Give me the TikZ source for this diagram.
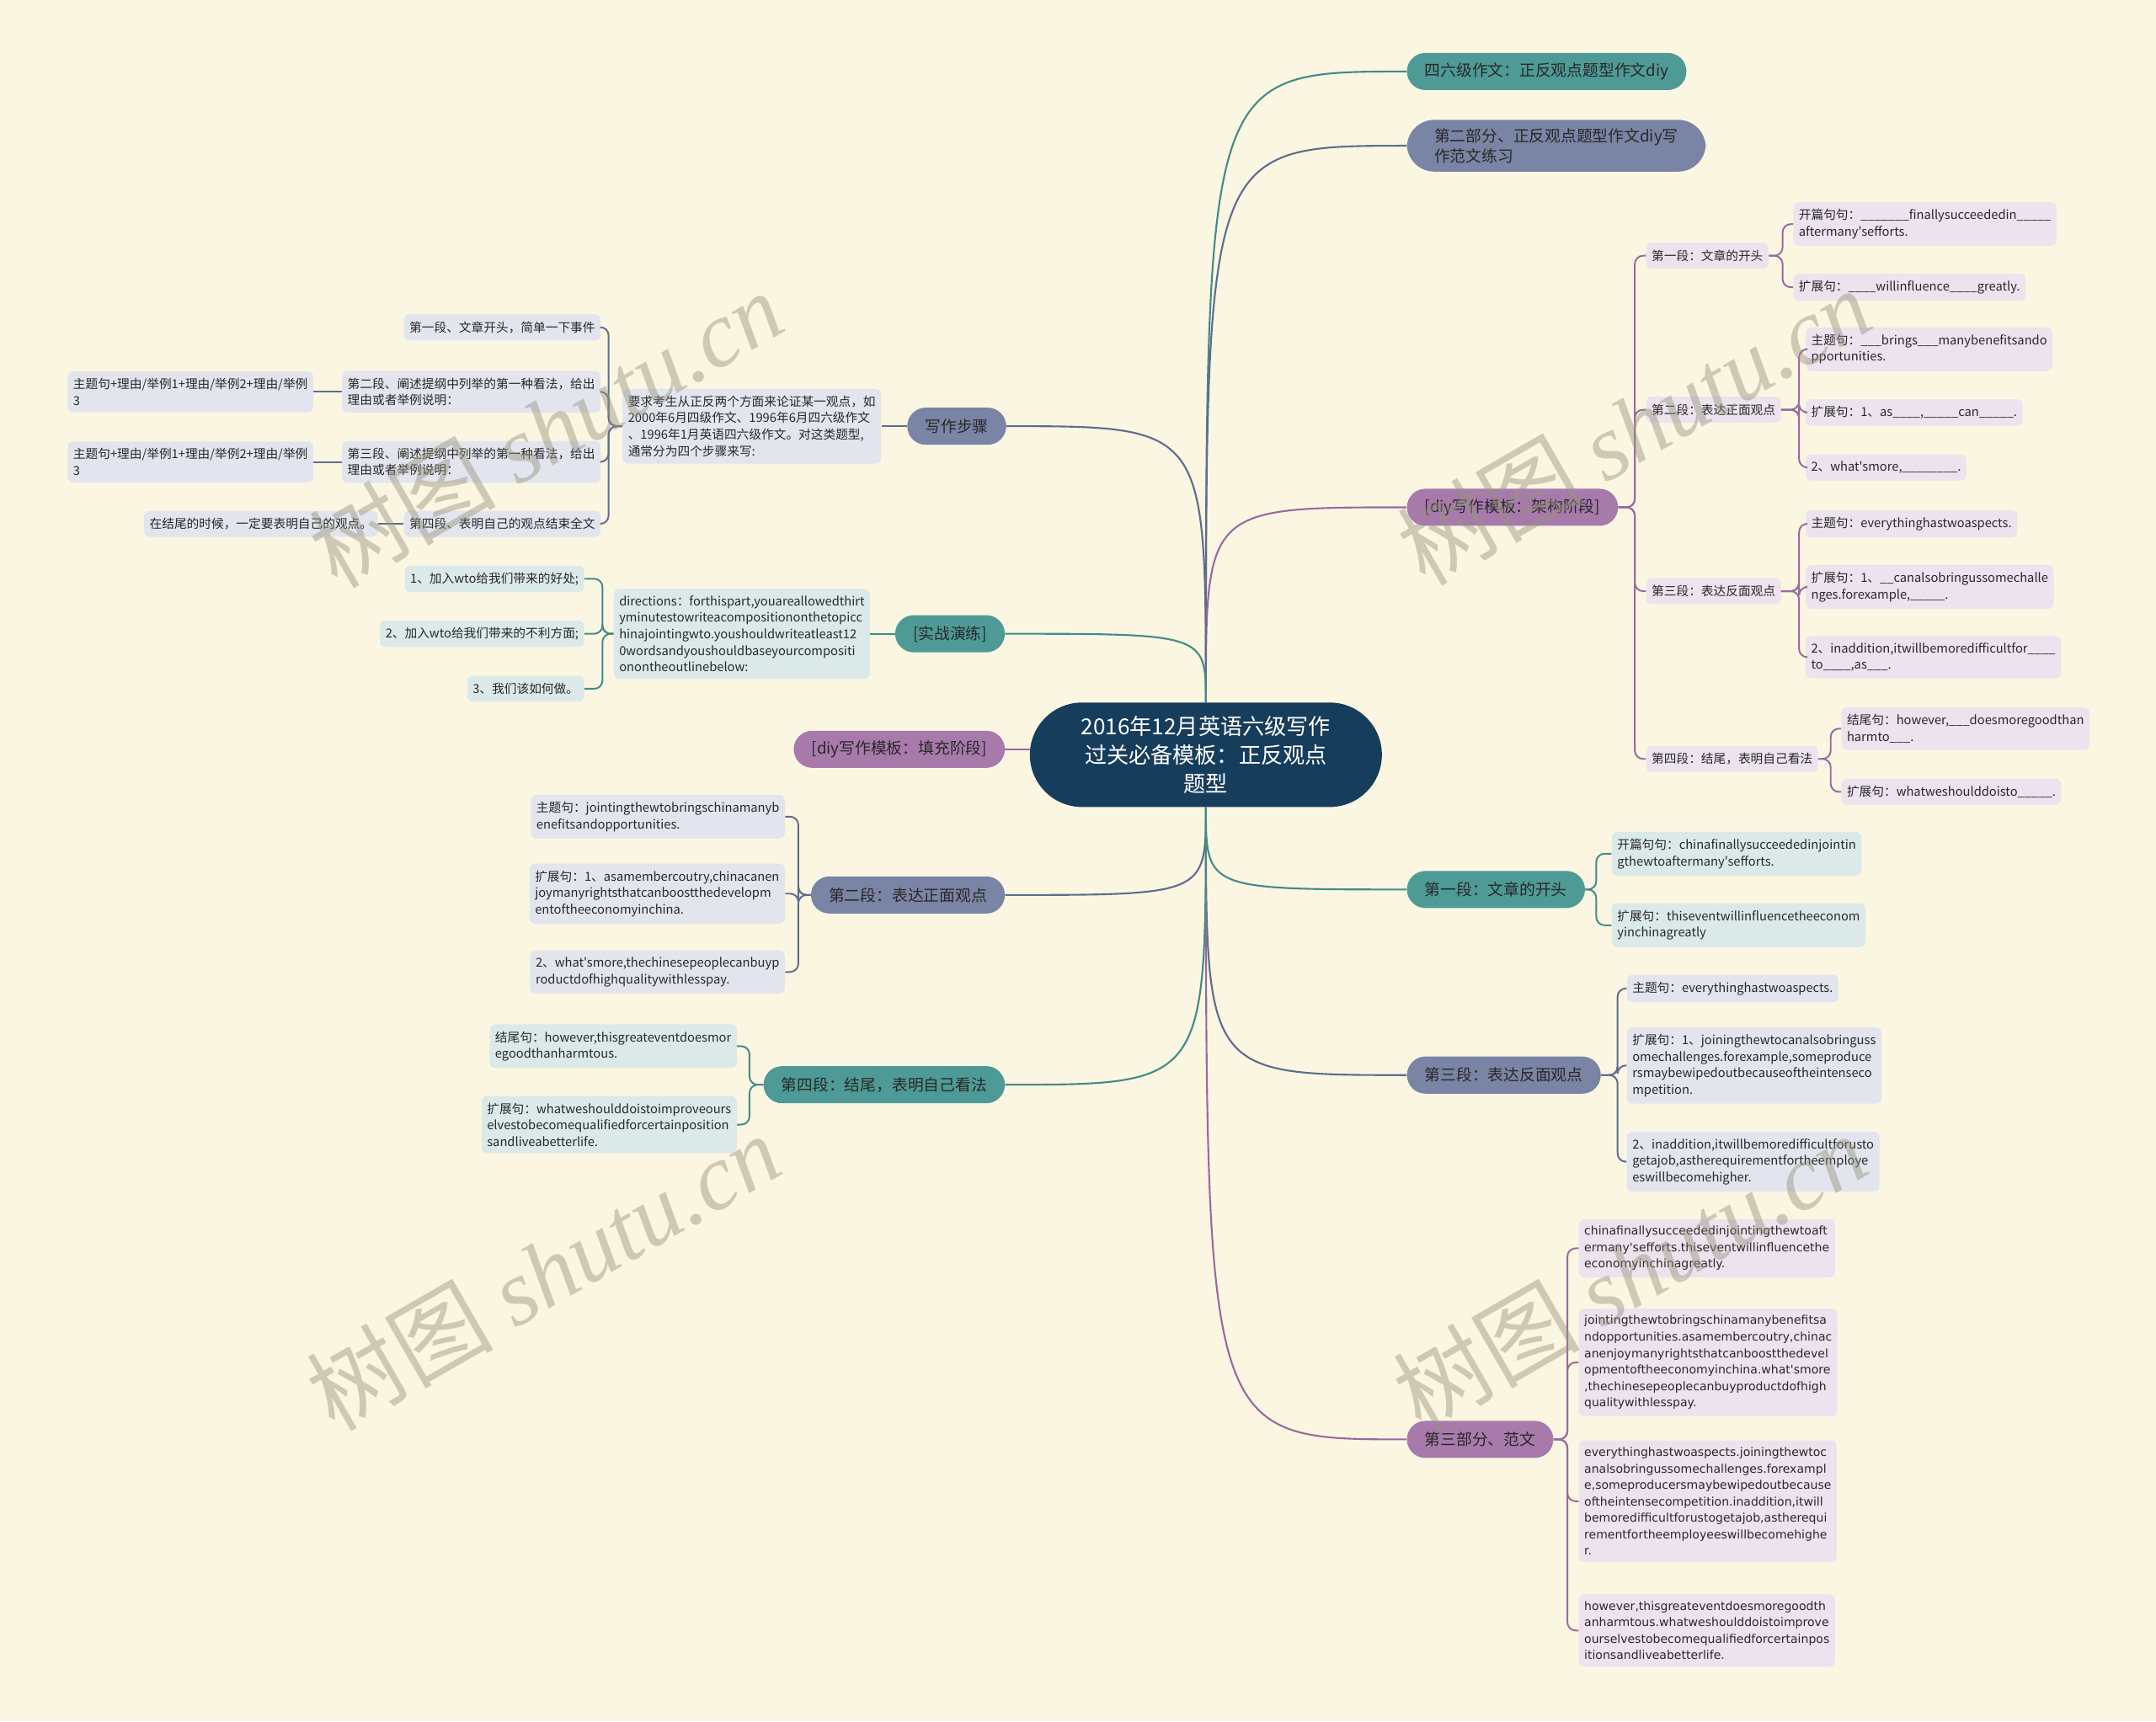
\documentclass[tikz,border=0pt]{standalone}
\usepackage{fontspec}
\setmainfont{Noto Sans CJK SC}[Ligatures=TeXOff]
\newfontfamily\essayfont{DejaVu Sans}[Ligatures=TeXOff]
\newfontfamily\wmlatin{Liberation Serif}
\definecolor{paper}{RGB}{251,246,226}
\definecolor{navy}{RGB}{23,61,92}
\definecolor{tealfill}{RGB}{78,154,150}
\definecolor{slatefill}{RGB}{122,132,164}
\definecolor{plumfill}{RGB}{168,122,172}
\definecolor{tealleaf}{RGB}{219,234,232}
\definecolor{slateleaf}{RGB}{226,229,237}
\definecolor{plumleaf}{RGB}{236,227,238}
\definecolor{tealline}{RGB}{66,140,136}
\definecolor{slateline}{RGB}{96,108,142}
\definecolor{plumline}{RGB}{152,106,160}
\definecolor{ink}{RGB}{40,40,40}
\definecolor{wmark}{RGB}{150,148,128}
\tikzset{
  topicnode/.style={
    fill=navy,
    text=white,
    rounded corners=38pt,
    minimum width=256pt,
    minimum height=76pt,
    align=center,
    inner sep=2pt,
    font=\fontsize{16}{21}\selectfont
  },
  mainbranch/.style={rounded corners=13.5pt, minimum height=27pt, inner xsep=13pt, inner ysep=3pt,
    text=ink, align=left, font=\fontsize{11.5}{15}\selectfont},
  tealbr/.style={mainbranch, fill=tealfill},
  slatebr/.style={mainbranch, fill=slatefill},
  plumbr/.style={mainbranch, fill=plumfill},
  leafbox/.style={rounded corners=4pt, minimum height=19pt, inner xsep=4pt, inner ysep=5pt,
    text=ink, align=left, font=\fontsize{9}{12}\selectfont},
  tealleafbox/.style={leafbox, fill=tealleaf},
  slateleafbox/.style={leafbox, fill=slateleaf},
  plumleafbox/.style={leafbox, fill=plumleaf},
  essaybox/.style={plumleafbox, font=\essayfont\fontsize{8.6}{12}\selectfont},
  limb/.style={line width=1.3pt},
  twig/.style={line width=1.2pt, rounded corners=6pt},
  watermark/.style={text=wmark, text opacity=0.45, rotate=30, font=\fontsize{68}{68}\selectfont}
}
\newcommand{\limbto}[3]{\draw[limb, #1] (#2) .. controls (#2 |- #3) .. (#3);}
\newcommand{\forkr}[4]{\draw[twig, #1] (#2.east) -- ++(#3,0) |- (#4.west);}
\newcommand{\forkl}[4]{\draw[twig, #1] (#2.west) -- ++(-#3,0) |- (#4.east);}

\begin{document}
\begin{tikzpicture}[x=1pt, y=-1pt]
  \fill[paper] (0,0) rectangle (1568,1252);
  \useasboundingbox (0,0) rectangle (1568,1252);

  \node[topicnode] (root) at (877,549) {2016年12月英语六级写作\\过关必备模板：正反观点\\题型};

  % right side
  \node[tealbr, anchor=west] (sixlevel) at (1023,52) {四六级作文：正反观点题型作文diy};
  \node[slatebr, anchor=west, rounded corners=20pt, inner xsep=20pt, inner ysep=6pt] (parttwo) at (1023,106) {第二部分、正反观点题型作文diy写\\作范文练习};
  \node[plumbr, anchor=west] (frame) at (1023,369) {[diy写作模板：架构阶段]};
  \node[tealbr, anchor=west] (paraone) at (1023,647) {第一段：文章的开头};
  \node[slatebr, anchor=west] (parathree) at (1023,782) {第三段：表达反面观点};
  \node[plumbr, anchor=west] (essay) at (1023,1047) {第三部分、范文};

  \node[plumleafbox, anchor=west] (fr1) at (1197,186) {第一段：文章的开头};
  \node[plumleafbox, anchor=west] (fr2) at (1197,298) {第二段：表达正面观点};
  \node[plumleafbox, anchor=west] (fr3) at (1197,430) {第三段：表达反面观点};
  \node[plumleafbox, anchor=west] (fr4) at (1197,552) {第四段：结尾，表明自己看法};

  \node[plumleafbox, anchor=west] (fr11) at (1304,163) {开篇句句：\_\_\_\_\_\_\_finallysucceededin\_\_\_\_\_\\aftermany'sefforts.};
  \node[plumleafbox, anchor=west] (fr12) at (1304,209) {扩展句：\_\_\_\_willinfluence\_\_\_\_greatly.};
  \node[plumleafbox, anchor=west] (fr21) at (1313,254) {主题句：\_\_\_brings\_\_\_manybenefitsando\\pportunities.};
  \node[plumleafbox, anchor=west] (fr22) at (1313,300) {扩展句：1、as\_\_\_\_,\_\_\_\_\_can\_\_\_\_\_.};
  \node[plumleafbox, anchor=west] (fr23) at (1313,340) {2、what'smore,\_\_\_\_\_\_\_\_.};
  \node[plumleafbox, anchor=west] (fr31) at (1313,381) {主题句：everythinghastwoaspects.};
  \node[plumleafbox, anchor=west] (fr32) at (1313,427) {扩展句：1、\_\_canalsobringussomechalle\\nges.forexample,\_\_\_\_\_.};
  \node[plumleafbox, anchor=west] (fr33) at (1313,478) {2、inaddition,itwillbemoredifficultfor\_\_\_\_\\to\_\_\_\_,as\_\_\_.};
  \node[plumleafbox, anchor=west] (fr41) at (1339,530) {结尾句：however,\_\_\_doesmoregoodthan\\harmto\_\_\_.};
  \node[plumleafbox, anchor=west] (fr42) at (1339,576) {扩展句：whatweshoulddoisto\_\_\_\_\_.};

  \node[tealleafbox, anchor=west] (po1) at (1172,621) {开篇句句：chinafinallysucceededinjointin\\gthewtoaftermany'sefforts.};
  \node[tealleafbox, anchor=west] (po2) at (1172,673) {扩展句：thiseventwillinfluencetheeconom\\yinchinagreatly};

  \node[slateleafbox, anchor=west] (pt1) at (1183,719) {主题句：everythinghastwoaspects.};
  \node[slateleafbox, anchor=west] (pt2) at (1183,775) {扩展句：1、joiningthewtocanalsobringuss\\omechallenges.forexample,someproduce\\rsmaybewipedoutbecauseoftheintenseco\\mpetition.};
  \node[slateleafbox, anchor=west] (pt3) at (1183,845) {2、inaddition,itwillbemoredifficultforusto\\getajob,astherequirementfortheemploye\\eswillbecomehigher.};

  \node[essaybox, anchor=west] (es1) at (1148,908) {chinafinallysucceededinjointingthewtoaft\\ermany'sefforts.thiseventwillinfluencethe\\economyinchinagreatly.};
  \node[essaybox, anchor=west] (es2) at (1148,991) {jointingthewtobringschinamanybenefitsa\\ndopportunities.asamembercoutry,chinac\\anenjoymanyrightsthatcanboostthedevel\\opmentoftheeconomyinchina.what'smore\\,thechinesepeoplecanbuyproductdofhigh\\qualitywithlesspay.};
  \node[essaybox, anchor=west] (es3) at (1148,1092) {everythinghastwoaspects.joiningthewtoc\\analsobringussomechallenges.forexampl\\e,someproducersmaybewipedoutbecause\\oftheintensecompetition.inaddition,itwill\\bemoredifficultforustogetajob,astherequi\\rementfortheemployeeswillbecomehighe\\r.};
  \node[essaybox, anchor=west] (es4) at (1148,1186) {however,thisgreateventdoesmoregoodth\\anharmtous.whatweshoulddoistoimprove\\ourselvestobecomequalifiedforcertainpos\\itionsandliveabetterlife.};

  % left side
  \node[slatebr, anchor=east] (steps) at (732,310) {写作步骤};
  \node[tealbr, anchor=east] (drill) at (731,461) {[实战演练]};
  \node[plumbr, anchor=east] (fillin) at (731,545) {[diy写作模板：填充阶段]};
  \node[slatebr, anchor=east] (paratwo) at (731,651) {第二段：表达正面观点};
  \node[tealbr, anchor=east] (parafour) at (731,789) {第四段：结尾，表明自己看法};

  \node[slateleafbox, anchor=east] (st0) at (641,310) {要求考生从正反两个方面来论证某一观点，如\\2000年6月四级作文、1996年6月四六级作文\\、1996年1月英语四六级作文。对这类题型,\\通常分为四个步骤来写:};
  \node[slateleafbox, anchor=east] (st1) at (437,238) {第一段、文章开头，简单一下事件};
  \node[slateleafbox, anchor=east] (st2) at (437,285) {第二段、阐述提纲中列举的第一种看法，给出\\理由或者举例说明：};
  \node[slateleafbox, anchor=east] (st3) at (437,336) {第三段、阐述提纲中列举的第一种看法，给出\\理由或者举例说明：};
  \node[slateleafbox, anchor=east] (st4) at (437,381) {第四段、表明自己的观点结束全文};
  \node[slateleafbox, anchor=east] (st2a) at (228,285) {主题句+理由/举例1+理由/举例2+理由/举例\\3};
  \node[slateleafbox, anchor=east] (st3a) at (228,336) {主题句+理由/举例1+理由/举例2+理由/举例\\3};
  \node[slateleafbox, anchor=east] (st4a) at (275,381) {在结尾的时候，一定要表明自己的观点。};

  \node[tealleafbox, anchor=east] (dr0) at (633,461) {directions：forthispart,youareallowedthirt\\yminutestowriteacompositiononthetopicc\\hinajointingwto.youshouldwriteatleast12\\0wordsandyoushouldbaseyourcompositi\\onontheoutlinebelow:};
  \node[tealleafbox, anchor=east] (dr1) at (425,421) {1、加入wto给我们带来的好处;};
  \node[tealleafbox, anchor=east] (dr2) at (425,461) {2、加入wto给我们带来的不利方面;};
  \node[tealleafbox, anchor=east] (dr3) at (425,501) {3、我们该如何做。};

  \node[slateleafbox, anchor=east] (pw1) at (571,594) {主题句：jointingthewtobringschinamanyb\\enefitsandopportunities.};
  \node[slateleafbox, anchor=east] (pw2) at (571,650) {扩展句：1、asamembercoutry,chinacanen\\joymanyrightsthatcanboostthedevelopm\\entoftheeconomyinchina.};
  \node[slateleafbox, anchor=east] (pw3) at (571,707) {2、what'smore,thechinesepeoplecanbuyp\\roductdofhighqualitywithlesspay.};

  \node[tealleafbox, anchor=east] (pf1) at (536,761) {结尾句：however,thisgreateventdoesmor\\egoodthanharmtous.};
  \node[tealleafbox, anchor=east] (pf2) at (536,818) {扩展句：whatweshoulddoistoimproveours\\elvestobecomequalifiedforcertainposition\\sandliveabetterlife.};

  % limbs from the root
  \limbto{tealline}{root.north}{sixlevel.west}
  \limbto{slateline}{root.north}{parttwo.west}
  \limbto{plumline}{root.north}{frame.west}
  \limbto{tealline}{root.south}{paraone.west}
  \limbto{slateline}{root.south}{parathree.west}
  \limbto{plumline}{root.south}{essay.west}
  \limbto{slateline}{root.north}{steps.east}
  \limbto{tealline}{root.north}{drill.east}
  \draw[limb, plumline] (root.west |- fillin.east) -- (fillin.east);
  \limbto{slateline}{root.south}{paratwo.east}
  \limbto{tealline}{root.south}{parafour.east}

  % forks
  \foreach \k in {1,...,4} {\forkr{plumline}{frame}{12}{fr\k}}
  \foreach \k in {1,2} {\forkr{plumline}{fr1}{10}{fr1\k}}
  \foreach \k in {1,2,3} {\forkr{plumline}{fr2}{13}{fr2\k}}
  \foreach \k in {1,2,3} {\forkr{plumline}{fr3}{13}{fr3\k}}
  \foreach \k in {1,2} {\forkr{plumline}{fr4}{9}{fr4\k}}
  \foreach \k in {1,2} {\forkr{tealline}{paraone}{8}{po\k}}
  \foreach \k in {1,2,3} {\forkr{slateline}{parathree}{12}{pt\k}}
  \foreach \k in {1,...,4} {\forkr{plumline}{essay}{10}{es\k}}
  \draw[twig, slateline] (steps.west) -- (st0.east);
  \foreach \k in {1,...,4} {\forkl{slateline}{st0}{10}{st\k}}
  \draw[twig, slateline] (st2.west) -- (st2a.east);
  \draw[twig, slateline] (st3.west) -- (st3a.east);
  \draw[twig, slateline] (st4.west) -- (st4a.east);
  \draw[twig, tealline] (drill.west) -- (dr0.east);
  \foreach \k in {1,2,3} {\forkl{tealline}{dr0}{8}{dr\k}}
  \foreach \k in {1,2,3} {\forkl{slateline}{paratwo}{9}{pw\k}}
  \foreach \k in {1,2} {\forkl{tealline}{parafour}{10}{pf\k}}

  % watermarks
  \foreach \wx/\wy [count=\i] in {397/312, 395/925, 1188/310, 1185/925}
    \node[watermark] (wm\i) at (\wx,\wy) {树图 {\wmlatin\itshape shutu.cn}};
\end{tikzpicture}
\end{document}
